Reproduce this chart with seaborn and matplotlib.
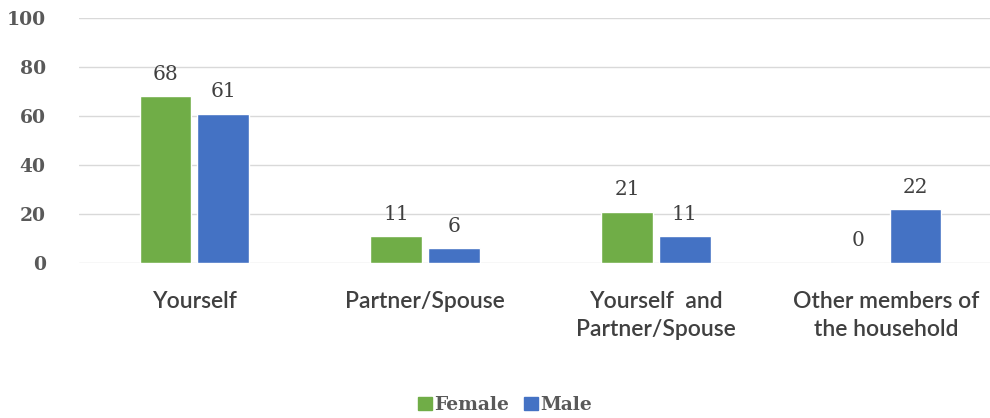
import matplotlib
matplotlib.use("Agg")
import matplotlib.pyplot as plt
import seaborn as sns
import pandas as pd

categories = ["Yourself", "Partner/Spouse", "Yourself  and\nPartner/Spouse", "Other members of\nthe household"]
female = [68, 11, 21, 0]
male = [61, 6, 11, 22]
series = ["Female", "Male"]
colors = ["#70AD47", "#4472C4"]

df = pd.DataFrame({
    "category": categories * 2,
    "value": female + male,
    "sex": ["Female"] * len(categories) + ["Male"] * len(categories),
})

sns.set_theme(style="white")
plt.rcParams['font.family'] = ['DejaVu Sans']

fig = plt.figure(figsize=(9.9, 4.18), dpi=100)
ax = fig.add_axes([79/990, 1-263/418, 923/990, (263-18)/418])

sns.barplot(data=df, x="category", y="value", hue="sex", order=categories,
            hue_order=series, palette=colors, width=0.5, gap=0.1,
            ax=ax, legend=False, saturation=1)

ax.set_ylim(0, 100)
ax.set_yticks(range(0, 101, 20))
ax.set_xlim(-0.5, len(categories) - 0.5)
ax.grid(axis="y", color="#D9D9D9", linewidth=1)
ax.set_axisbelow(True)
for s in ax.spines.values():
    s.set_visible(False)
ax.set_xlabel("")
ax.set_ylabel("")
ax.tick_params(axis="both", length=0)
ax.tick_params(axis="y", pad=24)
ax.tick_params(axis="x", pad=20)

for lab in ax.get_yticklabels():
    lab.set_fontfamily("DejaVu Serif")
    lab.set_fontweight("bold")
    lab.set_fontsize(13.5)
    lab.set_color("#595959")
for lab in ax.get_xticklabels():
    lab.set_fontfamily(["Lato", "DejaVu Sans"])
    lab.set_fontweight("semibold")
    lab.set_fontsize(16.5)
    lab.set_color("#404040")
    lab.set_linespacing(1.45)

for cont in ax.containers:
    ax.bar_label(cont, fmt="%d", padding=9, fontsize=14.5, color="#404040",
                 fontfamily="DejaVu Serif")

handles = [plt.Rectangle((0, 0), 1, 1, color=c) for c in colors]
fig.legend(handles, series, loc="center", bbox_to_anchor=(505/990, 1-405/418),
           ncol=2, frameon=False, handlelength=0.75, handleheight=0.75,
           handletextpad=0.1, columnspacing=0.8,
           prop={"family": "DejaVu Serif", "weight": "bold", "size": 13.5})
for t in fig.legends[0].get_texts():
    t.set_color("#595959")

fig.savefig("out.png", dpi=100)
